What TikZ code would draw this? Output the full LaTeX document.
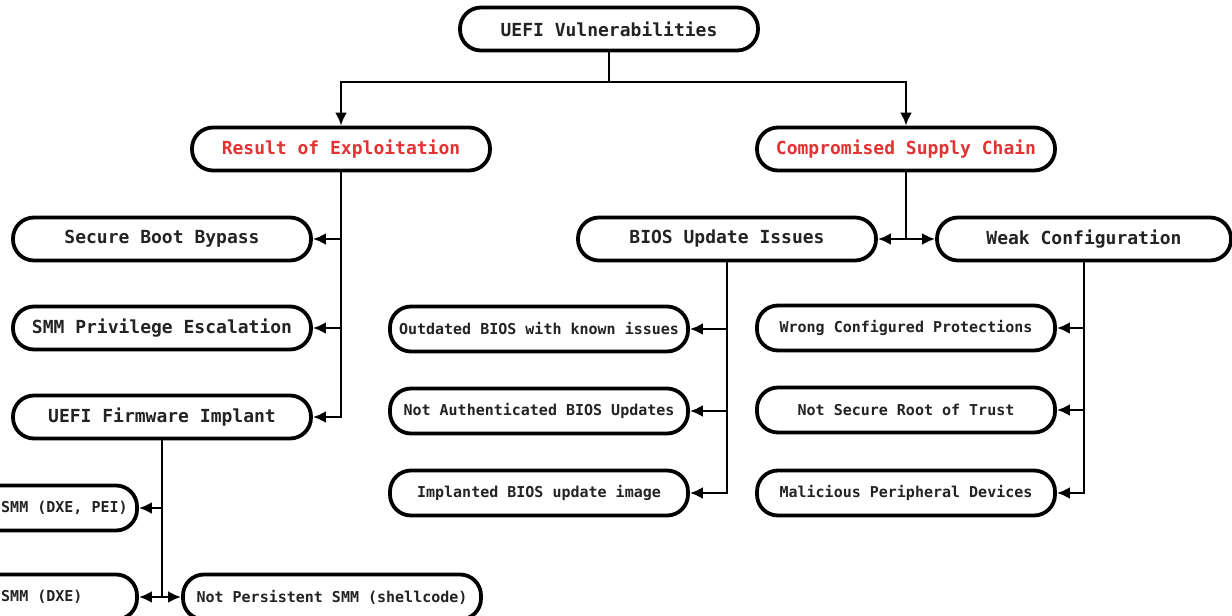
\documentclass[tikz,border=0pt]{standalone}
\usepackage{fontspec}
\setmonofont{DejaVu Sans Mono}
\usetikzlibrary{arrows.meta}
\definecolor{labelred}{RGB}{228,50,50}
\definecolor{ink}{RGB}{35,35,35}
\begin{document}
\begin{tikzpicture}[x=1pt,y=-1pt,
  pill/.style={draw=black, line width=3.8pt, rounded corners=21pt,
    minimum width=298pt, minimum height=43pt, inner sep=0pt,
    font=\ttfamily\bfseries\fontsize{18}{20}\selectfont, text=ink},
  smallpill/.style={pill, minimum height=45pt,
    font=\ttfamily\bfseries\fontsize{15}{17}\selectfont},
  smalltext/.style={inner sep=0pt, text=ink,
    font=\ttfamily\bfseries\fontsize{15}{17}\selectfont},
  hot/.style={text=labelred},
  link/.style={line width=2.8pt, draw=black},
  arr/.style={link, -{Latex[length=13pt,width=12pt]}}
]
\useasboundingbox (0,0) rectangle (1232,616);
\fill[white] (0,0) rectangle (1232,616);

% root and first level
\node[pill] (top) at (609,29) {UEFI Vulnerabilities};
\node[pill, hot] (res) at (341,149) {Result of Exploitation};
\node[pill, hot] (comp) at (906,149) {Compromised Supply Chain};

% results of exploitation
\node[pill] (sb)  at (162,239) {Secure Boot Bypass};
\node[pill] (smm) at (162,328) {SMM Privilege Escalation};
\node[pill] (fw)  at (162,417) {UEFI Firmware Implant};

% implant kinds
\node[smallpill] (pei) at (-12,508) {};
\node[smalltext, anchor=west] (peitxt) at (1,508) {SMM (DXE, PEI)};
\node[smallpill] (dxe) at (-12,597) {};
\node[smalltext, anchor=west] (dxetxt) at (1,597) {SMM (DXE)};
\node[smallpill] (np) at (332,597) {Not Persistent SMM (shellcode)};

% supply chain
\node[pill] (bios) at (727,239) {BIOS Update Issues};
\node[pill, minimum width=294pt] (weak) at (1084,239) {Weak Configuration};

\node[smallpill] (outd) at (539,329) {Outdated BIOS with known issues};
\node[smallpill] (auth) at (539,411) {Not Authenticated BIOS Updates};
\node[smallpill] (impl) at (539,493) {Implanted BIOS update image};

\node[smallpill] (wrong) at (906,328) {Wrong Configured Protections};
\node[smallpill] (root)  at (906,410) {Not Secure Root of Trust};
\node[smallpill] (mal)   at (906,493) {Malicious Peripheral Devices};

% connectors
\coordinate (split) at (609,82);
\draw[link] (top.south) -- (split);
\draw[arr] (split) -| (res.north);
\draw[arr] (split) -| (comp.north);

\draw[arr] (res.south) |- (fw.east);
\draw[arr] (res.south |- sb.east) -- (sb.east);
\draw[arr] (res.south |- smm.east) -- (smm.east);

\draw[link] (comp.south) -- (comp.south |- bios.east);
\draw[arr] (comp.south |- bios.east) -- (bios.east);
\draw[arr] (comp.south |- weak.west) -- (weak.west);

\draw[arr] (bios.south) |- (impl.east);
\draw[arr] (bios.south |- outd.east) -- (outd.east);
\draw[arr] (bios.south |- auth.east) -- (auth.east);

\draw[arr] (weak.south) |- (mal.east);
\draw[arr] (weak.south |- wrong.east) -- (wrong.east);
\draw[arr] (weak.south |- root.east) -- (root.east);

\draw[link] (fw.south) -- (fw.south |- dxe.east);
\draw[arr] (fw.south |- pei.east) -- (pei.east);
\draw[arr] (fw.south |- dxe.east) -- (dxe.east);
\draw[arr] (fw.south |- np.west) -- (np.west);
\end{tikzpicture}
\end{document}
